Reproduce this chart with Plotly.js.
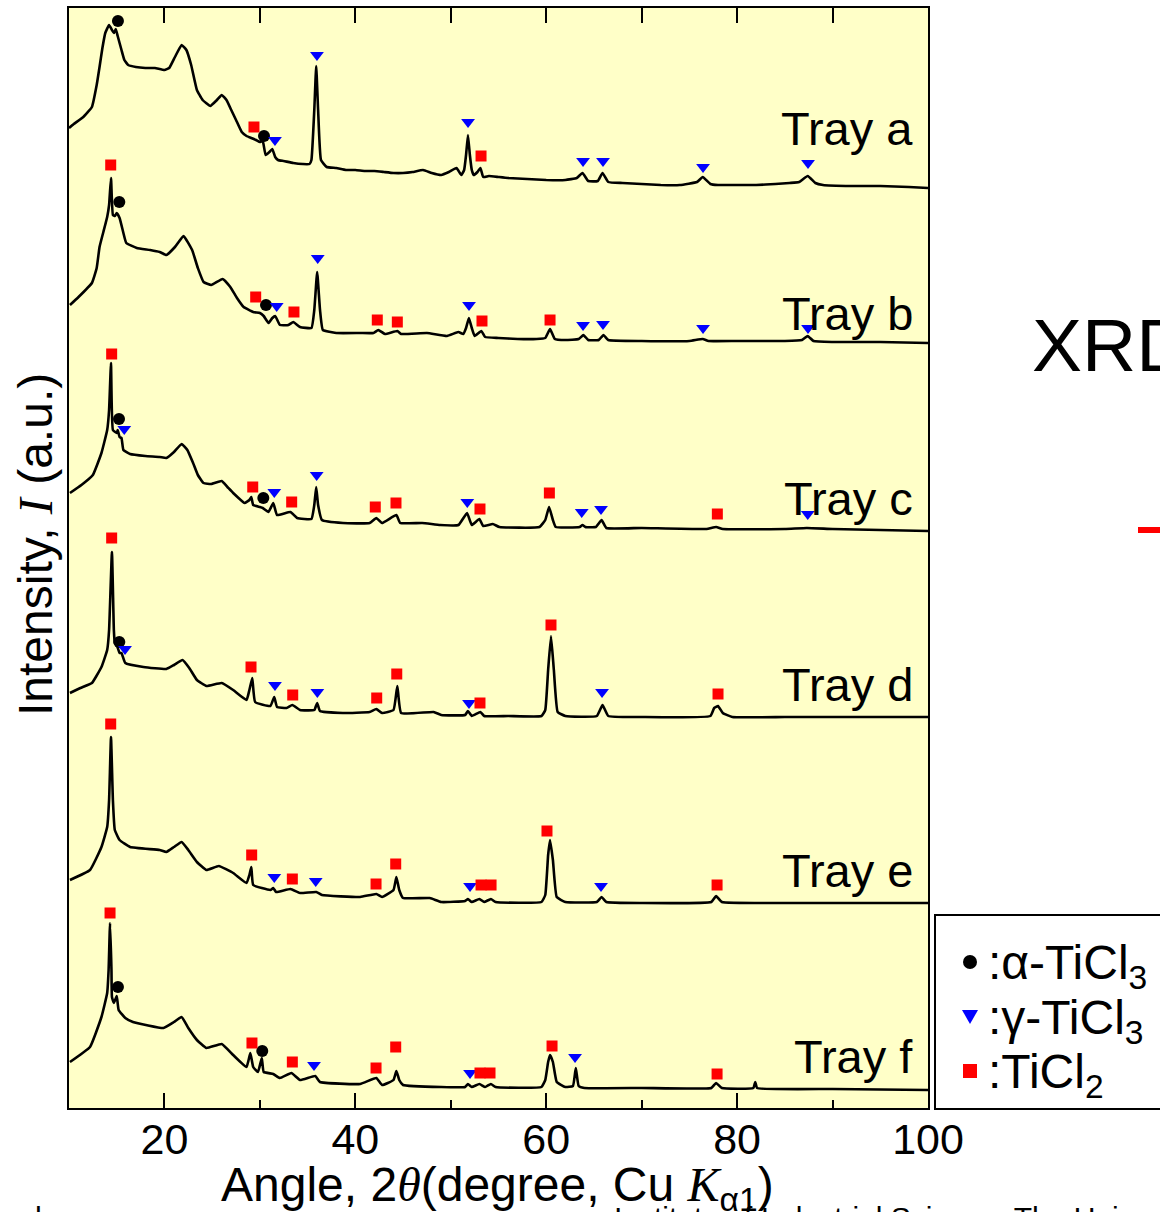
<!DOCTYPE html>
<html><head><meta charset="utf-8">
<script src="https://cdn.plot.ly/plotly-3.0.1.min.js"></script>
<style>html,body{margin:0;padding:0;background:#fff;} #chart{width:1160px;height:1212px;}</style>
</head><body><div id="chart"></div>
<script>
// ---------- DATA (2θ in degrees, intensity in arbitrary units above each tray's baseline) ----------
const trayNames = ['Tray a', 'Tray b', 'Tray c', 'Tray d', 'Tray e', 'Tray f'];
const trayOffsets = [920, 765, 577, 391, 205, 18];

const trayA = [[10,60],[10.5,64],[11.5,71],[12.4,81],[12.9,103],[13.2,121],[13.5,140],[13.8,155],[14.2,163],[14.5,158],[14.7,155],[14.9,159],[15.1,152],[15.5,138],[15.8,128],[16.2,123],[17,121],[18,120],[19,120],[20,118],[20.5,120],[21.1,131],[21.8,143],[22.3,138],[22.8,123],[23.4,98],[24.0,88],[24.8,82],[25.5,88],[26.0,93],[26.5,88],[27.0,78],[27.5,68],[28.1,56],[28.6,52],[29.1,50],[29.6,48],[30.0,46],[30.3,47],[30.6,33],[31.0,36],[31.3,39],[31.6,31],[31.9,28],[32.5,27],[33.5,25],[34.5,24],[35.2,24],[35.4,28],[35.7,78],[35.9,122],[36.1,78],[36.4,28],[37.0,21],[38,20],[39,18],[40,18],[41,17],[42,17],[43,16],[44,15],[45,15],[46,16],[47.1,18],[48,15],[49,13],[49.8,16],[50.6,20],[51.1,13],[51.4,18],[51.6,33],[51.8,53],[52.0,33],[52.2,18],[52.4,13],[52.8,16],[53.1,20],[53.4,11],[54,12],[55,11],[56,10],[58,9],[60,8],[62,8],[63.2,10],[63.8,15],[64.4,7],[65.4,7],[65.9,15],[66.5,6],[68,5],[70,4],[72,3],[74,3],[75.8,6],[76.4,11],[77.2,4],[78,3],[80,3],[82,3],[84,4],[85.5,5],[86.5,6],[87.4,12],[88.2,5],[89,3],[92,2],[95,2],[98,1],[100,0]];

const trayB = [[10.1,38],[11.0,46],[12.4,60],[12.9,75],[13.2,96],[13.6,111],[14.0,126],[14.2,138],[14.4,165],[14.6,128],[14.8,127],[15.0,130],[15.3,125],[15.7,110],[16.0,100],[17.1,95],[18.5,93],[19.5,91],[20.2,88],[21.1,96],[22.0,107],[22.9,93],[23.5,75],[24.1,61],[24.9,58],[26.1,64],[26.9,56],[27.6,45],[28.3,36],[29.3,31],[30.0,30],[30.4,27],[30.9,20],[31.3,25],[31.6,27],[32.1,18],[33.0,18],[33.5,21],[34.2,16],[35.4,15],[35.7,33],[36.0,71],[36.3,33],[36.6,13],[38.0,10],[40.5,10],[41.9,10],[42.4,13],[43.1,9],[44.4,12],[44.8,9],[47.5,10],[49.6,7],[50.8,11],[51.3,9],[51.6,15],[51.9,25],[52.2,15],[52.5,7],[53.2,12],[53.6,6],[55,5],[57,4],[59,4],[59.9,5],[60.4,14],[60.9,4],[62,3],[63.4,4],[63.9,8],[64.4,3],[65.5,3],[66.0,8],[66.5,3],[70,2],[75,2],[76.4,4],[77,2],[80,2],[85,2],[86.8,3],[87.4,7],[88,2],[90,1],[95,1],[100,0]];

const trayC = [[10.1,38],[11.3,46],[12.5,56],[13.4,78],[14.0,101],[14.2,121],[14.4,168],[14.6,101],[15.0,98],[15.1,101],[15.3,94],[15.5,93],[15.7,81],[16.4,77],[18,75],[19.5,74],[20.2,73],[21.0,79],[21.8,87],[22.4,81],[23.0,68],[23.5,56],[24.1,48],[24.9,47],[26.0,50],[26.6,44],[27.2,38],[28.4,28],[28.9,31],[29.1,34],[29.3,26],[30.0,24],[30.3,23],[30.9,19],[31.4,28],[31.8,16],[33.2,19],[33.9,13],[35.4,12],[35.7,26],[35.9,44],[36.1,26],[36.5,11],[38.7,8],[41.5,8],[42.2,13],[42.8,8],[44.3,16],[44.7,8],[47,8],[48.9,6],[50.8,6],[51.7,18],[52.2,6],[53.0,12],[53.4,5],[54.4,7],[55.1,4],[59.3,4],[59.9,11],[60.3,24],[60.7,11],[61.0,4],[63.5,4],[63.8,6],[64.1,4],[65.2,4],[65.8,11],[66.3,3],[70,3],[76.8,2],[77.8,4],[78.5,2],[85,2],[87.3,3],[90,2],[95,1],[100,0]];

const trayD = [[10.1,24],[11.2,29],[12.4,34],[13.4,50],[14.0,67],[14.2,87],[14.5,165],[14.7,87],[14.8,74],[15.0,72],[15.3,64],[15.5,64],[15.9,54],[17.8,50],[20.2,48],[21.0,52],[21.9,57],[22.6,49],[23.4,37],[24.4,31],[26.0,34],[27.2,27],[28.6,17],[28.9,27],[29.2,39],[29.5,15],[31.1,11],[31.5,20],[31.8,10],[32.8,9],[33.4,12],[34.2,7],[35.7,7],[36.0,14],[36.3,6],[38.7,4],[41.5,5],[42.2,8],[42.8,4],[44.0,7],[44.4,31],[44.8,4],[48.2,5],[49,2],[51.5,2],[51.8,6],[52.2,1],[53.1,5],[53.5,1],[56,1],[59.5,1],[59.9,7],[60.2,47],[60.5,81],[60.8,47],[61.2,5],[62,1],[65.3,1],[65.9,12],[66.5,1],[70,0],[77.2,1],[77.6,9],[78,11],[78.5,4],[79.5,0],[85,0],[90,0],[100,0]];

const trayE = [[10.1,23],[12.2,33],[13.4,56],[14.0,76],[14.2,103],[14.4,166],[14.6,103],[14.8,73],[15.3,63],[16.4,56],[19.5,53],[20.2,51],[21.0,56],[21.8,61],[22.5,53],[23.4,41],[24.4,33],[25.7,37],[27.2,30],[28.6,20],[28.9,28],[29.1,36],[29.3,18],[31.1,13],[31.4,15],[31.7,11],[33.2,14],[34.2,10],[35.9,11],[36.5,8],[40.5,6],[42.2,9],[42.8,6],[44.0,13],[44.3,26],[44.6,13],[45.0,5],[47.8,5],[49,1],[51.5,2],[51.8,4],[52.2,1],[53.0,4],[53.5,1],[54.2,4],[54.7,1],[59.5,1],[59.9,8],[60.2,48],[60.4,63],[60.7,43],[61.1,6],[62,1],[65.3,1],[65.8,6],[66.3,1],[70,0],[77.3,1],[77.8,7],[78.4,1],[85,0],[100,0]];

const trayF = [[10.1,28],[12.2,43],[13.4,73],[14.0,97],[14.15,120],[14.3,167],[14.45,120],[14.5,93],[14.7,87],[15.0,94],[15.2,80],[15.9,72],[16.7,68],[19.9,62],[21.0,68],[21.8,73],[22.5,62],[23.4,50],[24.4,42],[26.0,46],[27.2,35],[28.6,23],[29.0,37],[29.3,23],[29.8,18],[30.2,32],[30.4,18],[31.4,16],[32.1,12],[33.3,17],[34.2,10],[35.8,14],[36.3,8],[40.5,6],[42.2,12],[42.8,5],[44.0,10],[44.3,19],[44.6,10],[45.0,5],[49,3],[51.5,3],[51.8,6],[52.2,3],[53.0,6],[53.6,3],[54.2,6],[54.7,3],[59.5,3],[59.9,10],[60.2,28],[60.4,35],[60.7,28],[61.1,8],[62,3],[62.8,4],[63.1,22],[63.4,4],[64,2],[70,2],[77.3,2],[77.8,7],[78.4,2],[81.7,2],[81.9,8],[82.1,2],[90,1],[100,0]];

const trays = [trayA, trayB, trayC, trayD, trayE, trayF];

// phase markers per tray: [2θ, height above tray baseline]
const alphaTiCl3 = [
  [[15.13,167],[30.43,52]],
  [[15.27,141],[30.64,38]],
  [[15.24,112],[30.36,33]],
  [[15.27,75]],
  [],
  [[15.13,103],[30.25,39]]
];
const gammaTiCl3 = [
  [[31.58,48],[35.98,133],[51.81,66],[63.86,27],[65.95,27],[76.43,21],[87.43,25]],
  [[31.76,37],[36.06,85],[51.91,38],[63.86,18],[65.95,19],[76.43,15],[87.43,15]],
  [[15.79,102],[31.51,39],[35.95,56],[51.73,29],[63.72,19],[65.74,22],[87.40,17]],
  [[15.87,68],[31.58,32],[36.02,25],[51.91,14],[65.85,25]],
  [[31.51,26],[35.85,22],[52.02,17],[65.74,17]],
  [[35.67,25],[52.02,17],[63.02,33]]
];
const ticl2 = [
  [[29.38,61],[53.17,32]],
  [[14.37,178],[29.56,46],[33.57,31],[42.30,23],[44.40,21],[53.27,22],[60.40,23]],
  [[14.47,177],[29.25,44],[33.33,29],[42.09,24],[44.26,28],[53.06,22],[60.33,38],[77.93,17]],
  [[14.47,179],[29.07,50],[33.44,22],[42.24,19],[44.34,43],[53.06,14],[60.50,92],[78.0,23]],
  [[14.37,179],[29.14,48],[33.40,24],[42.17,19],[44.23,39],[53.17,18],[54.22,18],[60.08,72],[77.90,18]],
  [[14.30,177],[29.17,47],[33.40,28],[42.17,22],[44.23,43],[53.06,17],[54.11,17],[60.61,44],[77.90,16]]
];
const phaseNames = [':α-TiCl<sub>3</sub>', ':γ-TiCl<sub>3</sub>', ':TiCl<sub>2</sub>'];
const phaseColors = ['#000000', '#0000ff', '#ff0000'];
const xTickVals = [20, 40, 60, 80, 100];
const xTickText = ['20', '40', '60', '80', '100'];

// ---------- BUILD ----------
const FONT = 'Liberation Sans, Arial, sans-serif';
const W = 1160, H = 1212, ML = 69, MR = 232, MT = 8, MB = 104;
const PW = W - ML - MR, PH = H - MT - MB;
const px = v => (v - ML) / PW;          // page px -> paper x
const py = v => (H - MB - v) / PH;      // page px -> paper y

const data = [];
trays.forEach((t, i) => {
  data.push({
    x: t.map(p => p[0]), y: t.map(p => p[1] + trayOffsets[i]),
    mode: 'lines', type: 'scatter', line: {color: '#000', width: 2.6, shape: 'spline', smoothing: 0.35},
    showlegend: false, hoverinfo: 'skip', name: trayNames[i]
  });
});
function phaseTrace(list, name, symbol, color, size) {
  const xs = [], ys = [];
  list.forEach((arr, i) => arr.forEach(p => { xs.push(p[0]); ys.push(p[1] + trayOffsets[i]); }));
  return {x: xs, y: ys, mode: 'markers', type: 'scatter', name: name, showlegend: false,
    marker: {symbol: symbol, color: color, size: size, line: {width: 0}}, hoverinfo: 'skip'};
}
data.push(phaseTrace(alphaTiCl3, phaseNames[0], 'circle', phaseColors[0], 12));
data.push(phaseTrace(gammaTiCl3, phaseNames[1], 'triangle-down', phaseColors[1], 12));
data.push(phaseTrace(ticl2, phaseNames[2], 'square', phaseColors[2], 11));
data.push({x: [10, 100], y: [0, 0], xaxis: 'x2', mode: 'lines', line: {width: 0}, showlegend: false, hoverinfo: 'skip'});

const labelY = [980, 795, 610, 424, 238, 52];
const annotations = trayNames.map((n, i) => ({
  text: n, x: 98.6, y: labelY[i], xref: 'x', yref: 'y', xanchor: 'right', yanchor: 'middle',
  showarrow: false, font: {family: FONT, size: 47, color: '#000'}
}));
annotations.push({text: 'XRD', xref: 'paper', yref: 'paper', x: px(1030), y: py(345),
  xanchor: 'left', yanchor: 'middle', showarrow: false, font: {family: FONT, size: 75, color: '#000'}});
annotations.push({text: 'Institute of Industrial Science, The University of Tokyo', xref: 'paper', yref: 'paper',
  x: px(612), y: py(1199), xanchor: 'left', yanchor: 'top', showarrow: false, font: {family: FONT, size: 30, color: '#000'}});
annotations.push({text: 'ch', xref: 'paper', yref: 'paper',
  x: px(18), y: py(1199), xanchor: 'left', yanchor: 'top', showarrow: false, font: {family: FONT, size: 30, color: '#000'}});
// axis titles placed as annotations
annotations.push({text: 'Intensity, <span style="font-family:Liberation Serif"><i>I</i></span> (a.u.)',
  xref: 'paper', yref: 'paper', x: px(35), y: py(545), xanchor: 'center', yanchor: 'middle', textangle: -90,
  showarrow: false, font: {family: FONT, size: 48, color: '#000'}});
annotations.push({text: 'Angle, 2<span style="font-family:Liberation Serif"><i>θ</i></span>(degree, Cu <span style="font-family:Liberation Serif"><i>K</i></span><sub>α1</sub>)',
  xref: 'paper', yref: 'paper', x: px(497), y: py(1188), xanchor: 'center', yanchor: 'middle',
  showarrow: false, font: {family: FONT, size: 48, color: '#000'}});

// manual legend (box, symbols, texts)
const legY = [962, 1017, 1071];
const shapes = [
  {type: 'rect', xref: 'paper', yref: 'paper', x0: px(935), x1: px(1175), y0: py(915), y1: py(1109),
    fillcolor: '#ffffff', line: {color: '#000', width: 2}},
  {type: 'circle', xref: 'paper', yref: 'paper', x0: px(963), x1: px(977), y0: py(legY[0] - 7), y1: py(legY[0] + 7),
    fillcolor: phaseColors[0], line: {width: 0}},
  {type: 'path', xref: 'paper', yref: 'paper',
    path: `M ${px(962)} ${py(legY[1] - 7)} L ${px(978)} ${py(legY[1] - 7)} L ${px(970)} ${py(legY[1] + 7)} Z`,
    fillcolor: phaseColors[1], line: {width: 0}},
  {type: 'rect', xref: 'paper', yref: 'paper', x0: px(963), x1: px(977), y0: py(legY[2] - 7), y1: py(legY[2] + 7),
    fillcolor: phaseColors[2], line: {width: 0}},
  {type: 'line', xref: 'paper', yref: 'paper', x0: px(1138), x1: px(1175), y0: py(530), y1: py(530),
    line: {color: '#ff0000', width: 6}}
];
phaseNames.forEach((n, i) => annotations.push({
  text: n, xref: 'paper', yref: 'paper', x: px(986), y: py(legY[i] + 4), xanchor: 'left', yanchor: 'middle',
  showarrow: false, font: {family: FONT, size: 48, color: '#000'}
}));

const layout = {
  width: W, height: H,
  margin: {l: ML, r: MR, t: MT, b: MB, pad: 0},
  paper_bgcolor: '#ffffff', plot_bgcolor: '#ffffc8',
  font: {family: FONT, color: '#000'},
  showlegend: false,
  xaxis: {
    range: [10, 100], tickvals: xTickVals, ticktext: xTickText,
    ticks: 'inside', ticklen: 15, tickwidth: 2, tickcolor: '#000',
    minor: {tickvals: [30, 50, 70, 90], ticks: 'inside', ticklen: 8, tickwidth: 2, tickcolor: '#000'},
    showline: true, linewidth: 2, linecolor: '#000', showgrid: false, zeroline: false,
    tickfont: {family: FONT, size: 43, color: '#000'}, ticklabelstandoff: -8
  },
  xaxis2: {
    overlaying: 'x', anchor: 'y', side: 'top', range: [10, 100], dtick: 10, tick0: 0,
    ticks: 'inside', ticklen: 15, tickwidth: 2, tickcolor: '#000', showticklabels: false,
    showline: true, linewidth: 2, linecolor: '#000', showgrid: false, zeroline: false
  },
  yaxis: {
    range: [0, 1100], showticklabels: false, ticks: '', showgrid: false, zeroline: false,
    showline: true, mirror: true, linewidth: 2, linecolor: '#000'
  },
  shapes: shapes,
  annotations: annotations
};
Plotly.newPlot('chart', data, layout, {staticPlot: true, displayModeBar: false});
</script></body></html>
